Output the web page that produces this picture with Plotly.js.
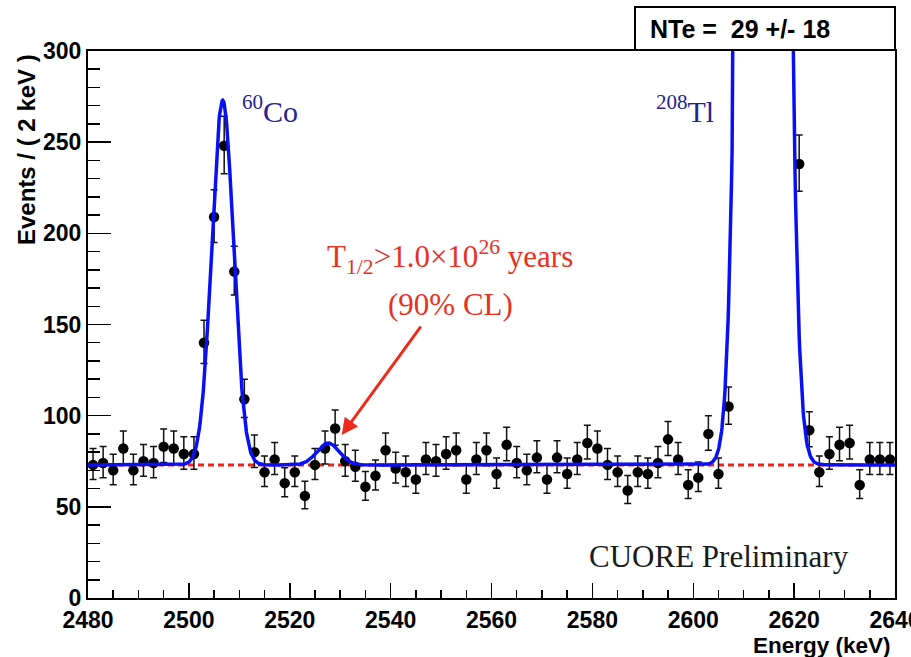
<!DOCTYPE html>
<html>
<head>
<meta charset="utf-8">
<script src="https://cdn.plot.ly/plotly-3.0.1.min.js"></script>
<style>html,body{margin:0;padding:0;background:#fff;}#chart{width:911px;height:657px;}</style>
</head>
<body>
<div id="chart"></div>
<script>
// Bin centres (keV), 2 keV bins
const energies = [2481,2483,2485,2487,2489,2491,2493,2495,2497,2499,2501,2503,2505,2507,2509,2511,2513,2515,2517,2519,
2521,2523,2525,2527,2529,2531,2533,2535,2537,2539,2541,2543,2545,2547,2549,2551,2553,2555,2557,2559,
2561,2563,2565,2567,2569,2571,2573,2575,2577,2579,2581,2583,2585,2587,2589,2591,2593,2595,2597,2599,
2601,2603,2605,2607,2609,2611,2613,2615,2617,2619,2621,2623,2625,2627,2629,2631,2633,2635,2637,2639];
// Events per bin (bins 2609-2619 are off scale, not readable)
const counts = [73,74,70,82,70,75,74,83,82,79,79,140,209,248,179,109,80,69,76,63,
69,56,73,82,93,75,72,61,67,81,71,69,65,76,75,79,81,65,76,81,
68,84,74,70,77,65,77,68,76,85,82,73,69,59,69,68,74,87,76,62,
66,90,68,105,null,null,null,null,null,null,238,92,69,79,84,85,62,76,76,76];

// Fit model parameters: flat background + Gaussian peaks (60Co, 0vbb, 208Tl)
const bgLevel = 73;
const peakCenters = [2506.7, 2527.6, 2613.9];
const peakAmps    = [200, 12, 2950];
const peakSigmas  = [2.15, 2.2, 2.6];

const xRange = [2480, 2640];
const yRange = [0, 300];
const xTickVals = [2480,2500,2520,2540,2560,2580,2600,2620,2640];
const yTickVals = [0,50,100,150,200,250,300];

// Poisson-style asymmetric error bars
const errUp = counts.map(n => n === null ? null : Math.sqrt(n + 0.25) + 0.5);
const errDn = counts.map(n => n === null ? null : Math.sqrt(n + 0.25) - 0.5);

// Model curve
const curveX = [], curveY = [];
for (let e = xRange[0]; e <= xRange[1] + 1e-9; e += 0.1) {
  let v = bgLevel;
  for (let i = 0; i < peakCenters.length; i++) {
    const d = e - peakCenters[i];
    v += peakAmps[i] * Math.exp(-d * d / (2 * peakSigmas[i] * peakSigmas[i]));
  }
  curveX.push(+e.toFixed(2));
  curveY.push(v);
}

const traces = [
  {x: xRange, y: [bgLevel, bgLevel], mode: 'lines', type: 'scatter',
   line: {color: '#f0231c', width: 3, dash: '6px,4px'}, hoverinfo: 'skip', showlegend: false},
  {x: energies, y: counts, mode: 'markers', type: 'scatter',
   marker: {color: '#000', size: 10.5},
   error_y: {type: 'data', symmetric: false, array: errUp, arrayminus: errDn, color: '#111', thickness: 1.5, width: 3.5},
   showlegend: false},
  {x: curveX, y: curveY, mode: 'lines', type: 'scatter',
   line: {color: '#0a10f5', width: 3.5}, hoverinfo: 'skip', showlegend: false}
];

const W = 807, H = 547, L = 88, T = 51;
const px2paperX = px => (px - L) / W;
const px2paperY = py => (T + H - py) / H;

const tickFont = {family: 'Liberation Sans, Arial, sans-serif', size: 23, color: '#000', weight: 'bold'};
const serif = 'Liberation Serif, Times New Roman, serif';

const layout = {
  width: 911, height: 657,
  margin: {l: L, r: 911 - L - W, t: T, b: 657 - T - H},
  paper_bgcolor: '#fff', plot_bgcolor: '#fff',
  showlegend: false,
  xaxis: {range: xRange, tickmode: 'array', tickvals: xTickVals, ticktext: xTickVals.map(String),
    ticks: 'inside', ticklen: 15, tickwidth: 1.5, tickcolor: '#000', ticklabeloverflow: 'allow',
    minor: {dtick: 5, tick0: 2480, ticks: 'inside', ticklen: 8, tickwidth: 1.5, tickcolor: '#000', showgrid: false},
    showline: true, linewidth: 2, linecolor: '#000', mirror: true,
    showgrid: false, zeroline: false, tickfont: tickFont, automargin: false},
  yaxis: {range: yRange, tickmode: 'array', tickvals: yTickVals, ticktext: yTickVals.map(String),
    ticks: 'inside', ticklen: 23, tickwidth: 1.5, tickcolor: '#000', ticklabeloverflow: 'allow',
    minor: {dtick: 10, tick0: 0, ticks: 'inside', ticklen: 12, tickwidth: 1.5, tickcolor: '#000', showgrid: false},
    showline: true, linewidth: 2, linecolor: '#000', mirror: true,
    showgrid: false, zeroline: false, tickfont: tickFont, automargin: false},
  shapes: [
    {type: 'rect', xref: 'paper', yref: 'paper',
     x0: px2paperX(635), x1: 1.0, y0: px2paperY(50), y1: px2paperY(7),
     line: {color: '#000', width: 2}, fillcolor: '#fff'}
  ],
  annotations: [
    {xref: 'paper', yref: 'paper', x: px2paperX(648), y: px2paperY(29), xanchor: 'left', yanchor: 'middle',
     text: 'NTe =&nbsp; 29 +/- 18', showarrow: false,
     font: {family: 'Liberation Sans, Arial, sans-serif', size: 25, color: '#000', weight: 'bold'}},
    {xref: 'paper', yref: 'paper', x: px2paperX(27), y: px2paperY(150), xanchor: 'center', yanchor: 'middle',
     text: 'Events / ( 2 keV )', textangle: -90, showarrow: false,
     font: {family: 'Liberation Sans, Arial, sans-serif', size: 24, color: '#000', weight: 'bold'}},
    {xref: 'paper', yref: 'paper', x: px2paperX(893), y: px2paperY(645), xanchor: 'right', yanchor: 'middle',
     text: 'Energy (keV)', showarrow: false,
     font: {family: 'Liberation Sans, Arial, sans-serif', size: 22.5, color: '#000', weight: 'bold'}},
    {xref: 'x', yref: 'y', x: 2516.1, y: 268, xanchor: 'center', yanchor: 'middle',
     text: '<sup>60</sup>Co', showarrow: false, font: {family: serif, size: 30, color: '#24248f'}},
    {xref: 'x', yref: 'y', x: 2598.4, y: 268, xanchor: 'center', yanchor: 'middle',
     text: '<sup>208</sup>Tl', showarrow: false, font: {family: serif, size: 30, color: '#24248f'}},
    {xref: 'x', yref: 'y', x: 2551.8, y: 187, xanchor: 'center', yanchor: 'middle',
     text: 'T<sub>1/2</sub>&gt;1.0×10<sup>26</sup> years', showarrow: false,
     font: {family: serif, size: 31, color: '#e8311f'}},
    {xref: 'x', yref: 'y', x: 2551.8, y: 161, xanchor: 'center', yanchor: 'middle',
     text: '(90% CL)', showarrow: false, font: {family: serif, size: 31, color: '#e8311f'}},
    {xref: 'x', yref: 'y', x: 2530.3, y: 89.4, axref: 'x', ayref: 'y', ax: 2546.2, ay: 149.7,
     text: '', showarrow: true, arrowhead: 2, arrowsize: 1.1, arrowwidth: 3, arrowcolor: '#ee2a1c'},
    {xref: 'x', yref: 'y', x: 2605.1, y: 23, xanchor: 'center', yanchor: 'middle',
     text: 'CUORE Preliminary', showarrow: false, font: {family: serif, size: 31, color: '#1a1a1a'}}
  ]
};

Plotly.newPlot('chart', traces, layout, {displayModeBar: false, staticPlot: true});
</script>
</body>
</html>
